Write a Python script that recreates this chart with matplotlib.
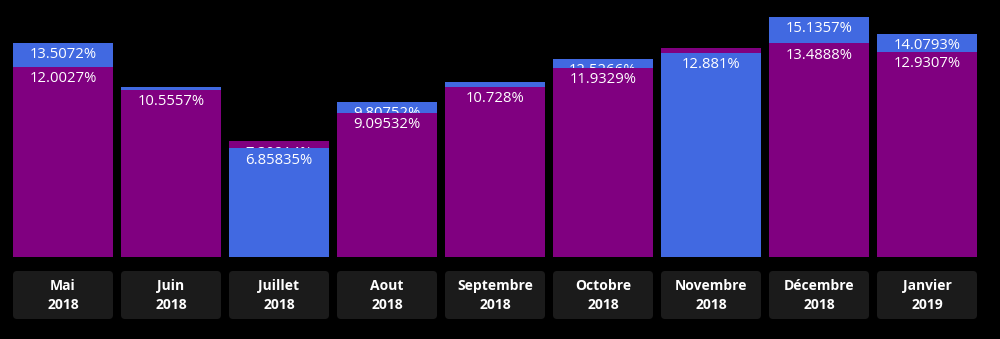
import matplotlib
matplotlib.use("Agg")
import matplotlib.pyplot as plt
from matplotlib.patches import FancyBboxPatch
from matplotlib.transforms import IdentityTransform

months = ["Mai", "Juin", "Juillet", "Aout", "Septembre", "Octobre",
          "Novembre", "Décembre", "Janvier"]
years = ["2018", "2018", "2018", "2018", "2018", "2018", "2018", "2018", "2019"]
purple_vals = [12.0027, 10.5557, 7.30214, 9.09532, 10.728, 11.9329,
               13.1805, 13.4888, 12.9307]
blue_vals = [13.5072, 10.7312, 6.85835, 9.80752, 11.0412, 12.5266,
             12.881, 15.1357, 14.0793]

PURPLE = "#800080"
BLUE = "#4169E1"
BG = "#000000"
BOX = "#1b1b1b"

W, H, DPI = 1000, 339, 100
fig = plt.figure(figsize=(W / DPI, H / DPI), dpi=DPI, facecolor=BG)
ax = fig.add_axes([9 / W, 82 / H, (981 - 9) / W, 1 - 82 / H])
ax.set_facecolor(BG)
n = len(months)
ax.set_xlim(-0.5, n - 0.5)
px_per_unit = 15.84
ax.set_ylim(0, 257 / px_per_unit)
ax.axis("off")

width = 100 / 108
font = "Open Sans"
min_visible = 0.4  # a label under the front bar is skipped when fully covered
for i in range(n):
    pairs = [(purple_vals[i], PURPLE), (blue_vals[i], BLUE)]
    pairs.sort(key=lambda p: -p[0])  # taller bar drawn behind
    gap = pairs[0][0] - pairs[1][0]
    for k, (v, c) in enumerate(pairs):
        z = 2 + 2 * k
        ax.bar(i, v, width=width, color=c, zorder=z, linewidth=0)
        if k == 0 and gap < min_visible:
            continue
        ax.annotate(f"{v:g}%", xy=(i, v), xytext=(0, -3),
                    textcoords="offset points", ha="center", va="top",
                    color="white", fontsize=10.7, family=font,
                    zorder=z + 1, annotation_clip=False)

# category boxes under the bars
fig.canvas.draw()
for i in range(n):
    x0 = ax.transData.transform((i - width / 2, 0))[0]
    x1 = ax.transData.transform((i + width / 2, 0))[0]
    y0, y1 = H - 319, H - 271
    r = 4
    box = FancyBboxPatch((x0 + r, y0 + r), (x1 - x0) - 2 * r, (y1 - y0) - 2 * r,
                         boxstyle=f"round,pad={r},rounding_size={r}",
                         facecolor=BOX, edgecolor="none",
                         transform=IdentityTransform(), figure=fig)
    fig.patches.append(box)
    xc = (x0 + x1) / 2
    fig.text(xc / W, (H - 286) / H, months[i], ha="center", va="center",
             color="white", fontsize=10, fontweight="bold", family=font)
    fig.text(xc / W, (H - 305) / H, years[i], ha="center", va="center",
             color="white", fontsize=10, fontweight="bold", family=font)

fig.savefig("out.png", dpi=DPI, facecolor=BG)
